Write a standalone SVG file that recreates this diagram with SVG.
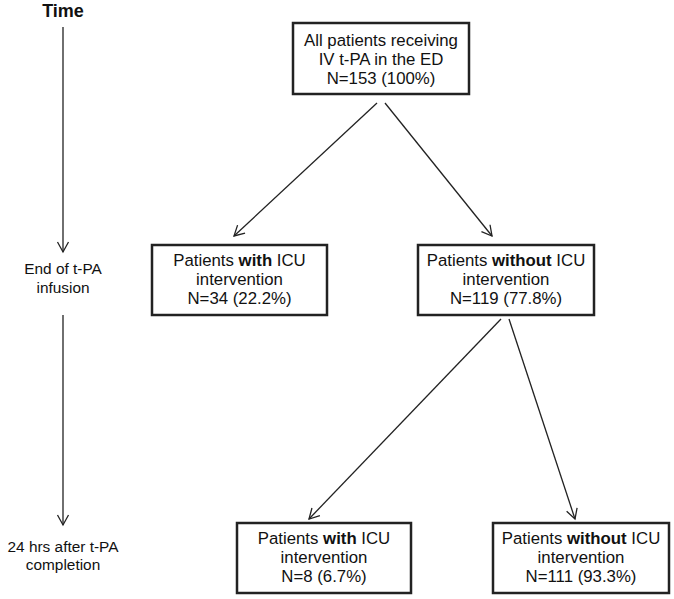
<svg xmlns="http://www.w3.org/2000/svg" width="674" height="599" viewBox="0 0 674 599">
<style>
.box{fill:#fff;stroke:#222;stroke-width:2.5}
.t{font-family:"Liberation Sans",Arial,sans-serif;font-size:16.8px;fill:#111;text-anchor:middle}
.s{font-family:"Liberation Sans",Arial,sans-serif;font-size:15.4px;fill:#111;text-anchor:middle}
.b{font-weight:bold}
.c{stroke:#222;stroke-width:1.3;fill:none;marker-end:url(#ah)}
</style>
<defs>
<marker id="ah" markerUnits="userSpaceOnUse" markerWidth="14" markerHeight="14" refX="0" refY="0" viewBox="-12 -7 14 14" orient="auto">
<path d="M-10,-5.5 L0,0 L-10,5.5" fill="none" stroke="#222" stroke-width="1.3"/>
</marker>
</defs>
<rect width="674" height="599" fill="#fff"/>
<g id="timeline">
<text x="63" y="17" class="s b" style="font-size:18px">Time</text>
<text x="63" y="274" class="s">End of t-PA</text>
<text x="63" y="293" class="s">infusion</text>
<text x="63" y="552" class="s">24 hrs after t-PA</text>
<text x="63" y="570" class="s">completion</text>
</g>
<g id="connectors">
<line class="c" x1="63" y1="27" x2="63" y2="252"/>
<line class="c" x1="63" y1="315" x2="63" y2="525"/>
<line class="c" x1="377" y1="103" x2="234" y2="236"/>
<line class="c" x1="385" y1="103" x2="492" y2="236"/>
<line class="c" x1="501" y1="319" x2="309" y2="519"/>
<line class="c" x1="509" y1="319" x2="575" y2="519"/>
</g>
<g id="n_all">
<rect class="box" x="293" y="23" width="176" height="71"/>
<text class="t" x="381" y="46">All patients receiving</text>
<text class="t" x="381" y="65">IV t-PA in the ED</text>
<text class="t" x="381" y="84">N=153 (100%)</text>
</g>
<g id="n_with1">
<rect class="box" x="152" y="245" width="175" height="70"/>
<text class="t" x="239.5" y="266">Patients <tspan class="b">with</tspan> ICU</text>
<text class="t" x="239.5" y="285">intervention</text>
<text class="t" x="239.5" y="304">N=34 (22.2%)</text>
</g>
<g id="n_without1">
<rect class="box" x="418" y="245" width="176" height="70"/>
<text class="t" x="506" y="266">Patients <tspan class="b">without</tspan> ICU</text>
<text class="t" x="506" y="285">intervention</text>
<text class="t" x="506" y="304">N=119 (77.8%)</text>
</g>
<g id="n_with2">
<rect class="box" x="237" y="523" width="174" height="70"/>
<text class="t" x="324" y="544">Patients <tspan class="b">with</tspan> ICU</text>
<text class="t" x="324" y="563">intervention</text>
<text class="t" x="324" y="582">N=8 (6.7%)</text>
</g>
<g id="n_without2">
<rect class="box" x="493" y="523" width="176" height="70"/>
<text class="t" x="581" y="544">Patients <tspan class="b">without</tspan> ICU</text>
<text class="t" x="581" y="563">intervention</text>
<text class="t" x="581" y="582">N=111 (93.3%)</text>
</g>
</svg>
